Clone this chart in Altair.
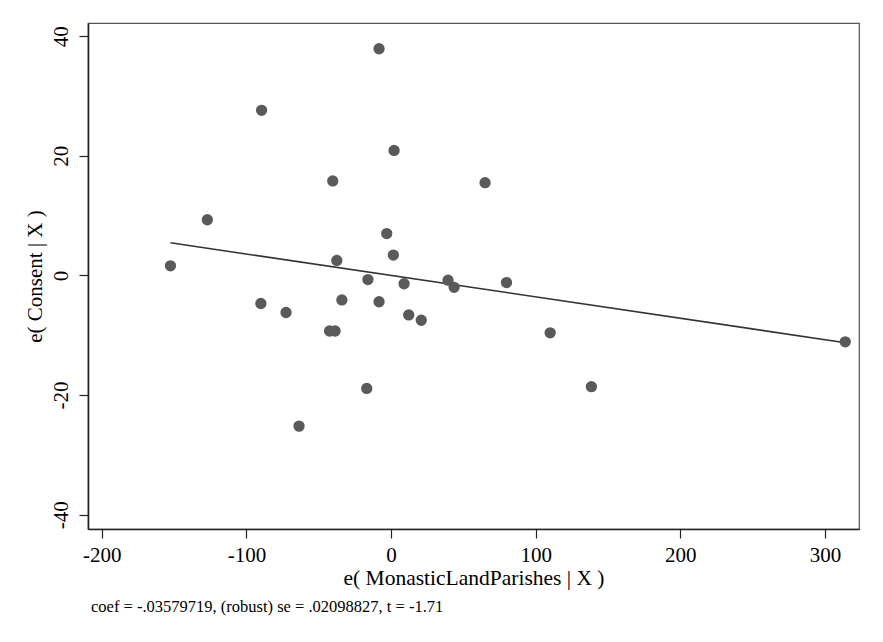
import altair as alt
import pandas as pd

# residualised values
x_vals = [-8.3, -89.5, 2.1, -40.3, 65.0, -127.0, -3.0, 1.6, -37.5, -152.5,
          -16.0, 39.4, 9.0, 43.6, 79.8, -90.0, -34.0, -8.3, -72.6, 12.2,
          20.9, -42.5, -38.7, 110.0, 314.0, -16.8, 138.5, -63.6]
y_vals = [37.9, 27.6, 20.9, 15.8, 15.5, 9.3, 7.0, 3.4, 2.5, 1.6,
          -0.7, -0.8, -1.4, -2.0, -1.2, -4.7, -4.1, -4.4, -6.2, -6.6,
          -7.5, -9.3, -9.3, -9.6, -11.1, -18.9, -18.6, -25.2]

coef = -0.03579719
note = "coef = -.03579719, (robust) se = .02098827, t = -1.71"

x_ticks = [-200, -100, 0, 100, 200, 300]
y_ticks = [-40, -20, 0, 20, 40]

df = pd.DataFrame({"x": x_vals, "y": y_vals})
mx, my = df["x"].mean(), df["y"].mean()
xmin, xmax = df["x"].min(), df["x"].max()
fit = pd.DataFrame({"x": [xmin, xmax],
                    "y": [my + coef * (xmin - mx), my + coef * (xmax - mx)]})

FONT = "Liberation Serif"
HYPHEN = "datum.value < 0 ? '-' + abs(datum.value) : '' + datum.value"

xs = alt.Scale(domain=[-209.5, 323.5], nice=False, zero=False)
ys = alt.Scale(domain=[-42.4, 42.2], nice=False, zero=False)

xaxis = alt.Axis(values=x_ticks, title="e( MonasticLandParishes | X )", grid=False,
                 labelExpr=HYPHEN,
                 labelFont=FONT, labelFontSize=21, labelColor="black",
                 titleFont=FONT, titleFontSize=21.5, titleFontWeight="normal",
                 titleColor="black", titlePadding=2,
                 tickSize=9, tickColor="#222", tickWidth=1.2,
                 domainColor="#222", domainWidth=1.6, labelPadding=6)
yaxis = alt.Axis(values=y_ticks, title="e( Consent | X )", grid=False,
                 labelExpr=HYPHEN,
                 labelFont=FONT, labelFontSize=21, labelColor="black",
                 labelAngle=-90, labelAlign="center", labelBaseline="bottom",
                 titleFont=FONT, titleFontSize=21, titleFontWeight="normal",
                 titleColor="black", titlePadding=5,
                 tickSize=9, tickColor="#222", tickWidth=1.2,
                 domainColor="#222", domainWidth=1.6, labelPadding=8)

pts = alt.Chart(df).mark_circle(size=128, color="#5a5a5a", opacity=1).encode(
    x=alt.X("x:Q", scale=xs, axis=xaxis),
    y=alt.Y("y:Q", scale=ys, axis=yaxis),
)
line = alt.Chart(fit).mark_line(color="#333333", strokeWidth=1.6).encode(
    x=alt.X("x:Q", scale=xs),
    y=alt.Y("y:Q", scale=ys),
)

chart = alt.layer(line, pts).properties(
    width=771, height=506,
    autosize=alt.AutoSizeParams(type="none"),
    padding={"left": 80, "top": 15, "right": 16, "bottom": 100},
    title=alt.TitleParams(note, orient="bottom", anchor="start", font=FONT,
                          fontSize=16.5, fontWeight="normal", color="black",
                          offset=10, frame="group", dx=3),
).configure_view(stroke="#555555", strokeWidth=1.2)

chart.save("out.html", embed_options={"renderer": "svg", "actions": False})
